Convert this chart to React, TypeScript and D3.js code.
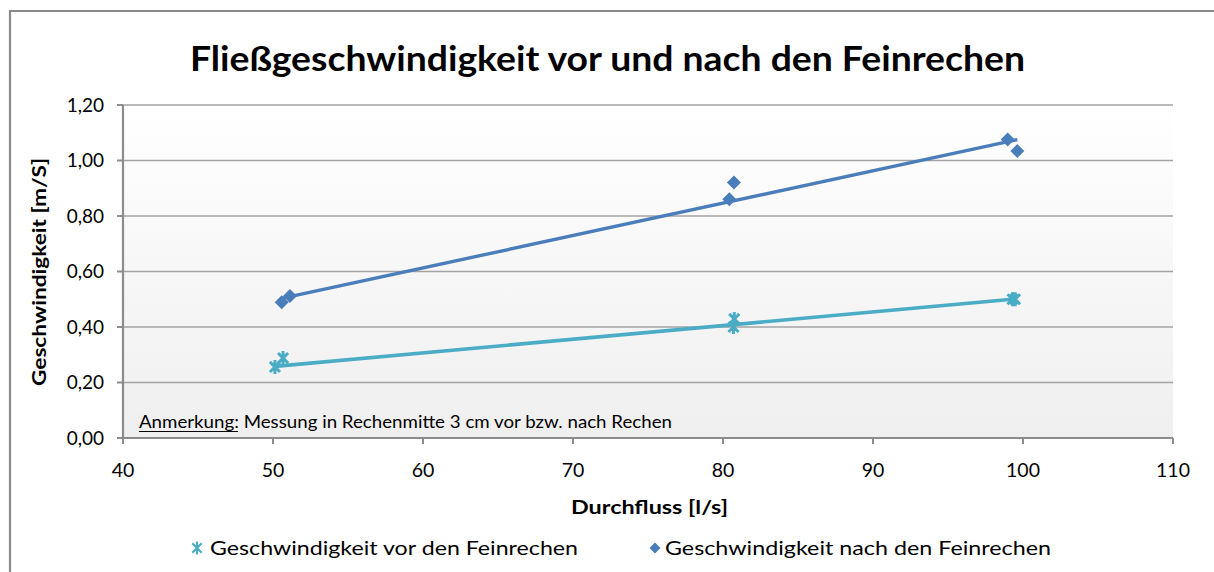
import React from "react";
import * as d3 from "d3";

const titleText = "Fließgeschwindigkeit vor und nach den Feinrechen";
const xAxisLabel = "Durchfluss [l/s]";
const yAxisLabel = "Geschwindigkeit [m/S]";
const seriesNames = ["Geschwindigkeit vor den Feinrechen", "Geschwindigkeit nach den Feinrechen"];
const noteLabel = "Anmerkung:";
const noteText = " Messung in Rechenmitte 3 cm vor bzw. nach Rechen";

const xTicks = [40, 50, 60, 70, 80, 90, 100, 110];
const yTicks = [0, 0.2, 0.4, 0.6, 0.8, 1.0, 1.2];

const vorX = [50.13, 50.67, 80.7, 80.75, 99.3, 99.47];
const vorY = [0.256, 0.288, 0.4, 0.429, 0.5, 0.5];
const nachX = [50.58, 51.13, 80.42, 80.73, 98.98, 99.62];
const nachY = [0.489, 0.512, 0.86, 0.921, 1.076, 1.034];

// trendlines
const vorTrendX = [50.13, 99.47];
const vorTrendY = [0.258, 0.501];
const nachTrendX = [50.58, 99.62];
const nachTrendY = [0.503, 1.075];

const W = 1214;
const H = 572;
const left = 123, right = 1173, top = 105, bottom = 438;

const cVor = "#4bacc6";
const cNach = "#4a7ebb";
const font = "Lato, 'Open Sans', sans-serif";

function starPath(cx: number, cy: number, r: number) {
  const d = r * 0.72;
  return `M${cx - d},${cy - d}L${cx + d},${cy + d}M${cx - d},${cy + d}L${cx + d},${cy - d}M${cx},${cy - r}L${cx},${cy + r}`;
}
function diamondPath(cx: number, cy: number, r: number) {
  return `M${cx},${cy - r}L${cx + r},${cy}L${cx},${cy + r}L${cx - r},${cy}Z`;
}

export default function App() {
  const x = d3.scaleLinear().domain([40, 110]).range([left, right]);
  const y = d3.scaleLinear().domain([0, 1.2]).range([bottom, top]);
  const line = d3
    .line<[number, number]>()
    .x((d) => x(d[0]))
    .y((d) => y(d[1]));
  const vorTrend = vorTrendX.map((v, i) => [v, vorTrendY[i]] as [number, number]);
  const nachTrend = nachTrendX.map((v, i) => [v, nachTrendY[i]] as [number, number]);
  const fmt = (v: number) => v.toFixed(2).replace(".", ",");

  return (
    <svg width={W} height={H} style={{ position: "absolute", left: 0, top: 0, background: "#fff" }} fontFamily={font}>
      <defs>
        <linearGradient id="bg" x1="0" y1="0" x2="0" y2="1">
          <stop offset="0" stopColor="#ffffff" />
          <stop offset="1" stopColor="#efefef" />
        </linearGradient>
      </defs>
      <rect x={0} y={0} width={W} height={H} fill="#fff" />
      {/* frame */}
      <path d={`M10,${H}L10,11L${W},11`} fill="none" stroke="#8a8a8a" strokeWidth={2.2} />

      <text x={607.5} y={71} textAnchor="middle" fontSize={34} fontWeight="bold" textLength={835} lengthAdjust="spacingAndGlyphs" fill="#000">
        {titleText}
      </text>

      <rect x={left} y={top} width={right - left} height={bottom - top} fill="url(#bg)" />

      {/* gridlines */}
      {yTicks.filter((t) => t > 0).map((t) => (
        <line key={t} x1={left} x2={right} y1={y(t)} y2={y(t)} stroke="#a3a3a3" strokeWidth={1.3} />
      ))}
      {/* axes */}
      <line x1={left} x2={left} y1={top} y2={bottom} stroke="#8c8c8c" strokeWidth={2.2} />
      <line x1={left} x2={right} y1={bottom} y2={bottom} stroke="#8c8c8c" strokeWidth={2.2} />
      {yTicks.map((t) => (
        <g key={t}>
          <line x1={left - 6} x2={left} y1={y(t)} y2={y(t)} stroke="#8c8c8c" strokeWidth={2} />
          <text x={104} y={y(t) + 6.5} textAnchor="end" fontSize={19} fill="#000">
            {fmt(t)}
          </text>
        </g>
      ))}
      {xTicks.map((t) => (
        <g key={t}>
          <line x1={x(t)} x2={x(t)} y1={bottom} y2={bottom + 6} stroke="#8c8c8c" strokeWidth={2} />
          <text x={x(t)} y={477} textAnchor="middle" fontSize={19.5} fill="#000">
            {t}
          </text>
        </g>
      ))}

      {/* trend lines */}
      <path d={line(vorTrend) || ""} fill="none" stroke={cVor} strokeWidth={3.6} />
      <path d={line(nachTrend) || ""} fill="none" stroke={cNach} strokeWidth={3.4} />

      {/* markers */}
      {vorX.map((v, i) => (
        <path key={"v" + i} d={starPath(x(v), y(vorY[i]), 7)} stroke={cVor} strokeWidth={3} fill="none" />
      ))}
      {nachX.map((v, i) => (
        <path key={"n" + i} d={diamondPath(x(v), y(nachY[i]), 7)} fill={cNach} />
      ))}

      {/* annotation */}
      <text x={139} y={428} fontSize={17} fill="#000" textLength={533} lengthAdjust="spacingAndGlyphs">
        <tspan>{noteLabel}</tspan>
        <tspan>{noteText}</tspan>
      </text>
      <line x1={139} x2={238} y1={431.5} y2={431.5} stroke="#000" strokeWidth={1} />

      {/* axis titles */}
      <text x={649.5} y={514} textAnchor="middle" fontSize={19} fontWeight="bold" fill="#000" textLength={157} lengthAdjust="spacingAndGlyphs">
        {xAxisLabel}
      </text>
      <text transform="translate(46,272) rotate(-90)" textAnchor="middle" fontSize={18} fontWeight="bold" fill="#000" textLength={228} lengthAdjust="spacingAndGlyphs">
        {yAxisLabel}
      </text>

      {/* legend */}
      <path d={starPath(197, 548, 6.5)} stroke={cVor} strokeWidth={2.2} fill="none" />
      <text x={210} y={555} fontSize={20} fill="#000" textLength={368} lengthAdjust="spacingAndGlyphs">
        {seriesNames[0]}
      </text>
      <path d={diamondPath(655, 548, 5.5)} fill={cNach} />
      <text x={665} y={555} fontSize={20} fill="#000" textLength={386} lengthAdjust="spacingAndGlyphs">
        {seriesNames[1]}
      </text>
    </svg>
  );
}
